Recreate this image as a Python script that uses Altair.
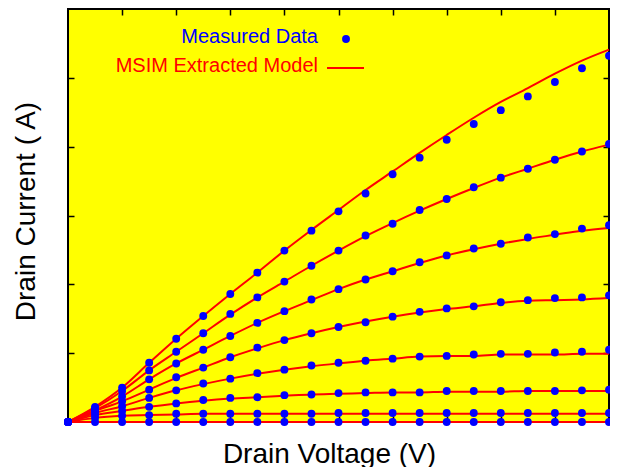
import altair as alt
import pandas as pd

# Drain voltage steps (arbitrary units, 0..20)
vd = list(range(21))

# Measured drain current (arbitrary units, axis 0..6), one list per gate bias
meas_1 = [0, 0.22, 0.50, 0.86, 1.21, 1.54, 1.86, 2.17, 2.49, 2.78, 3.06, 3.32, 3.60, 3.84, 4.10, 4.33, 4.53, 4.73, 4.94, 5.14, 5.32]
meas_2 = [0, 0.20, 0.45, 0.75, 1.02, 1.29, 1.57, 1.81, 2.04, 2.27, 2.49, 2.71, 2.88, 3.08, 3.24, 3.41, 3.55, 3.68, 3.81, 3.93, 4.04]
meas_3 = [0, 0.17, 0.37, 0.62, 0.85, 1.05, 1.25, 1.44, 1.61, 1.78, 1.93, 2.07, 2.19, 2.32, 2.42, 2.52, 2.59, 2.68, 2.73, 2.81, 2.86]
meas_4 = [0, 0.16, 0.30, 0.47, 0.65, 0.79, 0.94, 1.08, 1.19, 1.29, 1.38, 1.45, 1.53, 1.60, 1.65, 1.68, 1.74, 1.77, 1.80, 1.81, 1.84]
meas_5 = [0, 0.13, 0.23, 0.35, 0.46, 0.56, 0.63, 0.71, 0.76, 0.82, 0.86, 0.89, 0.92, 0.95, 0.96, 0.98, 0.99, 0.99, 1.01, 1.02, 1.05]
meas_6 = [0, 0.10, 0.16, 0.22, 0.27, 0.32, 0.35, 0.36, 0.39, 0.40, 0.42, 0.43, 0.43, 0.43, 0.45, 0.45, 0.45, 0.45, 0.45, 0.46, 0.47]
meas_7 = [0, 0.06, 0.09, 0.10, 0.12, 0.12, 0.12, 0.12, 0.12, 0.12, 0.13, 0.13, 0.13, 0.13, 0.13, 0.13, 0.13, 0.13, 0.13, 0.13, 0.13]
meas_8 = [0, 0, 0, 0, 0, 0, 0, 0, 0, 0, 0, 0, 0, 0, 0, 0, 0, 0, 0, 0, 0]

# MSIM extracted model curves
model_1 = [0, 0.22, 0.50, 0.86, 1.21, 1.54, 1.86, 2.17, 2.49, 2.79, 3.08, 3.37, 3.64, 3.91, 4.17, 4.42, 4.65, 4.85, 5.06, 5.25, 5.41]
model_2 = [0, 0.20, 0.45, 0.75, 1.02, 1.29, 1.56, 1.81, 2.04, 2.27, 2.49, 2.70, 2.89, 3.07, 3.24, 3.40, 3.55, 3.68, 3.81, 3.93, 4.03]
model_3 = [0, 0.17, 0.37, 0.62, 0.85, 1.05, 1.25, 1.44, 1.61, 1.77, 1.93, 2.07, 2.19, 2.31, 2.42, 2.51, 2.59, 2.66, 2.72, 2.78, 2.82]
model_4 = [0, 0.16, 0.30, 0.47, 0.64, 0.79, 0.94, 1.07, 1.19, 1.29, 1.38, 1.46, 1.53, 1.59, 1.64, 1.68, 1.73, 1.76, 1.77, 1.78, 1.80]
model_5 = [0, 0.13, 0.23, 0.35, 0.46, 0.55, 0.63, 0.70, 0.76, 0.81, 0.85, 0.89, 0.92, 0.95, 0.96, 0.96, 0.98, 0.98, 0.98, 0.99, 0.99]
model_6 = [0, 0.10, 0.16, 0.22, 0.27, 0.31, 0.34, 0.36, 0.38, 0.40, 0.41, 0.42, 0.43, 0.43, 0.44, 0.44, 0.44, 0.45, 0.45, 0.45, 0.45]
model_7 = [0, 0.06, 0.09, 0.10, 0.11, 0.12, 0.12, 0.12, 0.12, 0.12, 0.12, 0.12, 0.12, 0.12, 0.12, 0.12, 0.12, 0.12, 0.12, 0.12, 0.12]
model_8 = [0, 0, 0, 0, 0, 0, 0, 0, 0, 0, 0, 0, 0, 0, 0, 0, 0, 0, 0, 0, 0]

x_ticks = [2, 4, 6, 8, 10, 12, 14, 16, 18]
y_ticks = [1, 2, 3, 4, 5]

FONT = "Liberation Sans"

meas_sets = [meas_1, meas_2, meas_3, meas_4, meas_5, meas_6, meas_7, meas_8]
model_sets = [model_1, model_2, model_3, model_4, model_5, model_6, model_7, model_8]

rows_meas, rows_model = [], []
for k, s in enumerate(meas_sets):
    for x, v in zip(vd, s):
        rows_meas.append({"vd": x, "id": v, "curve": f"c{k+1}"})
for k, s in enumerate(model_sets):
    for x, v in zip(vd, s):
        rows_model.append({"vd": x, "id": v, "curve": f"c{k+1}"})
df_meas = pd.DataFrame(rows_meas)
df_model = pd.DataFrame(rows_model)

xscale = alt.Scale(domain=[0, 20], nice=False, zero=False)
yscale = alt.Scale(domain=[0, 6], nice=False, zero=False)

tick_common = dict(labels=False, ticks=True, tickSize=6, tickColor="black", tickWidth=1.5,
                   domain=False, grid=False, offset=-6)

lines = alt.Chart(df_model).mark_line(color="#ff0000", strokeWidth=2, interpolate="monotone").encode(
    x=alt.X("vd:Q", scale=xscale,
            axis=alt.Axis(orient="bottom", values=x_ticks, title="Drain Voltage (V)",
                          titleFont=FONT, titleFontSize=28, titleFontWeight="normal", titleColor="black",
                          titleX=261, titleY=46, titleAlign="center", titleBaseline="alphabetic",
                          **tick_common)),
    y=alt.Y("id:Q", scale=yscale,
            axis=alt.Axis(orient="left", values=y_ticks, title="Drain Current ( A)",
                          titleFont=FONT, titleFontSize=28, titleFontWeight="normal", titleColor="black",
                          titleAngle=270, titleX=-40, titleY=202, titleAlign="center",
                          titleBaseline="alphabetic", **tick_common)),
    detail="curve:N",
)

points = alt.Chart(df_meas).mark_circle(color="#0000ff", size=62, opacity=1).encode(
    x=alt.X("vd:Q", scale=xscale, axis=alt.Axis(orient="top", values=x_ticks, title="", **tick_common)),
    y=alt.Y("id:Q", scale=yscale, axis=alt.Axis(orient="right", values=y_ticks, title="", **tick_common)),
)

leg_df1 = pd.DataFrame({"t": ["Measured Data"]})
leg_df2 = pd.DataFrame({"t": ["MSIM Extracted Model"]})

leg_text1 = alt.Chart(leg_df1).mark_text(align="right", baseline="alphabetic", font=FONT, fontSize=20,
                                         color="#0000ff").encode(
    x=alt.value(250), y=alt.value(34), text="t:N")
leg_text2 = alt.Chart(leg_df2).mark_text(align="right", baseline="alphabetic", font=FONT, fontSize=20,
                                         color="#ff0000").encode(
    x=alt.value(250), y=alt.value(63), text="t:N")
leg_dot = alt.Chart(leg_df1).mark_circle(color="#0000ff", size=62, opacity=1).encode(
    x=alt.value(278), y=alt.value(30))
leg_line = alt.Chart(leg_df2).mark_rule(color="#ff0000", strokeWidth=2).encode(
    x=alt.value(259), x2=alt.value(296), y=alt.value(59))

chart = alt.layer(lines, points, leg_text1, leg_text2, leg_dot, leg_line).resolve_axis(
    x="independent", y="independent"
).properties(
    width=541, height=413,
    autosize=alt.AutoSizeParams(type="none"),
    padding={"left": 60, "top": 1, "right": 1, "bottom": 45},
    background="white",
).configure_view(
    fill="#ffff00", stroke="black", strokeWidth=2
)

chart.save("out.html", embed_options={"renderer": "svg", "actions": False})
